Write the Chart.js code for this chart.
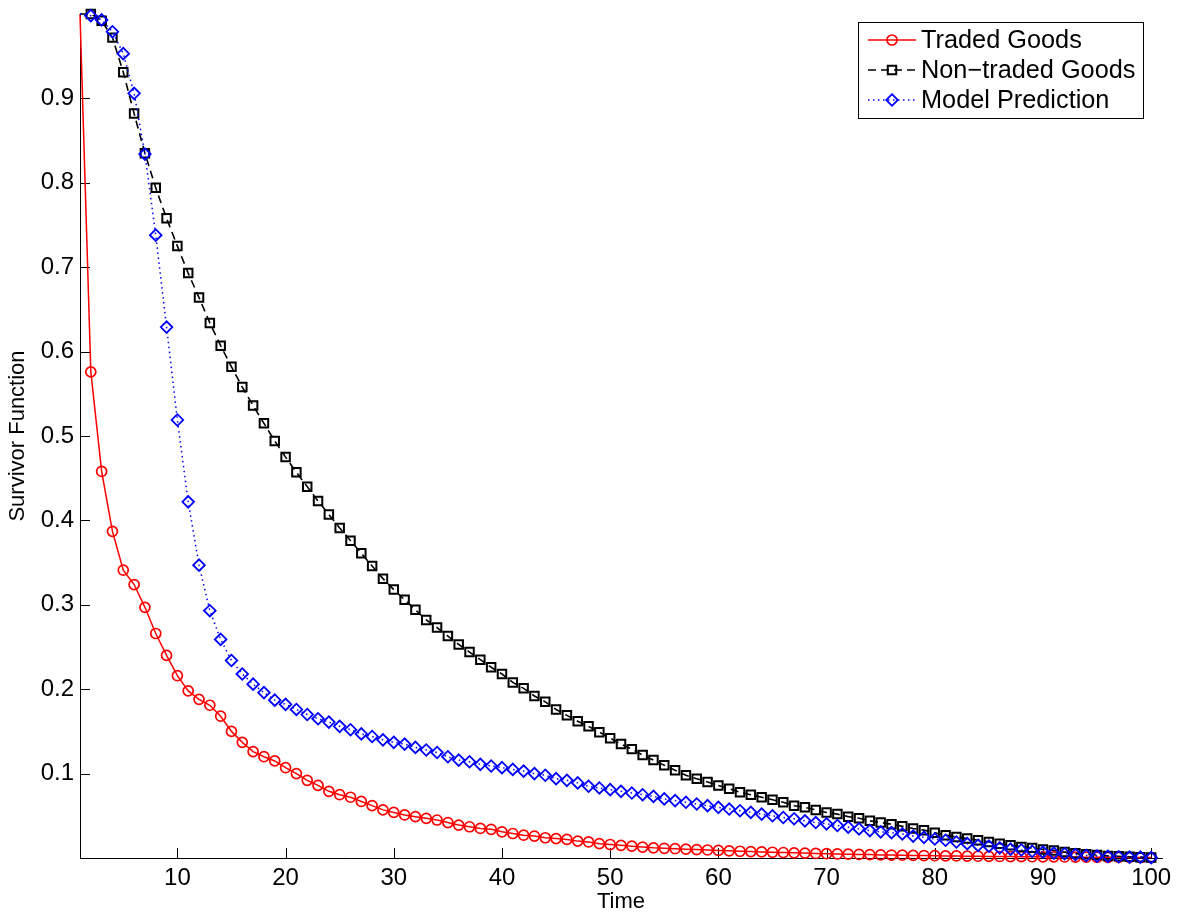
<!DOCTYPE html>
<html>
<head>
<meta charset="utf-8">
<title>Survivor Function</title>
<script src="https://cdn.jsdelivr.net/npm/chart.js@4.4.1/dist/chart.umd.min.js"></script>
<style>
  html, body { margin: 0; padding: 0; background: #fff; }
</style>
</head>
<body>
<canvas id="survivorChart" width="1186" height="917"></canvas>
<script>
// time periods 1..100
const time = [
  1, 2, 3, 4, 5, 6, 7, 8, 9, 10, 11, 12, 13, 14, 15, 16, 17, 18, 19, 20,
  21, 22, 23, 24, 25, 26, 27, 28, 29, 30, 31, 32, 33, 34, 35, 36, 37, 38, 39, 40,
  41, 42, 43, 44, 45, 46, 47, 48, 49, 50, 51, 52, 53, 54, 55, 56, 57, 58, 59, 60,
  61, 62, 63, 64, 65, 66, 67, 68, 69, 70, 71, 72, 73, 74, 75, 76, 77, 78, 79, 80,
  81, 82, 83, 84, 85, 86, 87, 88, 89, 90, 91, 92, 93, 94, 95, 96, 97, 98, 99, 100
];

const tradedGoods = [
  1.0, 0.576, 0.458, 0.387, 0.341, 0.324, 0.297, 0.266, 0.240, 0.216,
  0.198, 0.188, 0.181, 0.168, 0.150, 0.137, 0.126, 0.120, 0.115, 0.107,
  0.100, 0.092, 0.086, 0.079, 0.075, 0.072, 0.067, 0.062, 0.057, 0.054,
  0.051, 0.049, 0.047, 0.045, 0.042, 0.039, 0.037, 0.035, 0.034, 0.031,
  0.029, 0.027, 0.026, 0.024, 0.023, 0.022, 0.020, 0.019, 0.017, 0.016,
  0.015, 0.014, 0.013, 0.012, 0.0115, 0.011, 0.0105, 0.010, 0.0095, 0.009,
  0.0085, 0.008, 0.0076, 0.0072, 0.0068, 0.0065, 0.0061, 0.0058, 0.0054, 0.0051,
  0.0048, 0.0045, 0.0042, 0.0040, 0.0037, 0.0035, 0.0033, 0.0031, 0.0029, 0.0027,
  0.0025, 0.0024, 0.0022, 0.0021, 0.0019, 0.0018, 0.0017, 0.0016, 0.0015, 0.0014,
  0.0013, 0.0012, 0.0011, 0.0010, 0.0009, 0.0008, 0.0008, 0.0007, 0.0006, 0.0005
];

const nonTradedGoods = [
  1.0, 1.0, 0.992, 0.972, 0.931, 0.882, 0.835, 0.794, 0.758, 0.725,
  0.693, 0.664, 0.634, 0.607, 0.582, 0.558, 0.536, 0.515, 0.494, 0.475,
  0.457, 0.440, 0.423, 0.407, 0.391, 0.376, 0.361, 0.346, 0.331, 0.318,
  0.306, 0.294, 0.282, 0.273, 0.263, 0.253, 0.244, 0.235, 0.226, 0.218,
  0.208, 0.201, 0.192, 0.185, 0.176, 0.169, 0.162, 0.156, 0.149, 0.142,
  0.135, 0.129, 0.122, 0.116, 0.110, 0.104, 0.098, 0.094, 0.090, 0.086,
  0.082, 0.078, 0.075, 0.072, 0.069, 0.066, 0.062, 0.060, 0.057, 0.054,
  0.052, 0.049, 0.047, 0.044, 0.042, 0.040, 0.0375, 0.035, 0.033, 0.030,
  0.027, 0.025, 0.023, 0.021, 0.019, 0.017, 0.015, 0.013, 0.012, 0.010,
  0.009, 0.007, 0.0055, 0.0045, 0.0035, 0.0025, 0.002, 0.0015, 0.001, 0.0005
];

const modelPrediction = [
  1.0, 0.998, 0.993, 0.979, 0.953, 0.906, 0.834, 0.738, 0.629, 0.519,
  0.422, 0.347, 0.293, 0.259, 0.234, 0.218, 0.206, 0.196, 0.187, 0.182,
  0.176, 0.170, 0.165, 0.161, 0.156, 0.152, 0.147, 0.144, 0.140, 0.137,
  0.135, 0.131, 0.128, 0.125, 0.120, 0.116, 0.114, 0.111, 0.109, 0.107,
  0.105, 0.103, 0.100, 0.098, 0.094, 0.092, 0.089, 0.085, 0.083, 0.081,
  0.079, 0.077, 0.075, 0.073, 0.070, 0.068, 0.066, 0.064, 0.062, 0.060,
  0.058, 0.056, 0.054, 0.052, 0.050, 0.048, 0.0465, 0.044, 0.042, 0.0405,
  0.0385, 0.0365, 0.0345, 0.0325, 0.031, 0.030, 0.0285, 0.026, 0.0245, 0.0225,
  0.021, 0.019, 0.017, 0.015, 0.014, 0.012, 0.0105, 0.0095, 0.008, 0.007,
  0.0057, 0.005, 0.004, 0.003, 0.0023, 0.002, 0.0015, 0.001, 0.001, 0.0005
];

const xTickValues = [10, 20, 30, 40, 50, 60, 70, 80, 90, 100];
const yTickValues = [0.1, 0.2, 0.3, 0.4, 0.5, 0.6, 0.7, 0.8, 0.9];
const seriesNames = ['Traded Goods', 'Non\u2212traded Goods', 'Model Prediction'];

const FONT = '"Liberation Sans", Arial, Helvetica, sans-serif';

// first sample (t = 1) has no marker
const markerSizes = r => time.map((t, i) => (i === 0 ? 0 : r));

function toPoints(values) {
  return time.map((t, i) => ({ x: t, y: values[i] }));
}

// tick marks pointing into the plot
const inwardTicks = {
  id: 'inwardTicks',
  beforeDatasetsDraw(chart) {
    const { ctx, chartArea, scales } = chart;
    ctx.save();
    ctx.strokeStyle = '#000';
    ctx.lineWidth = 1;
    ctx.beginPath();
    xTickValues.forEach(v => {
      const px = Math.round(scales.x.getPixelForValue(v)) + 0.5;
      ctx.moveTo(px, chartArea.bottom);
      ctx.lineTo(px, chartArea.bottom - 10);
    });
    yTickValues.forEach(v => {
      const py = Math.round(scales.y.getPixelForValue(v)) + 0.5;
      ctx.moveTo(chartArea.left, py);
      ctx.lineTo(chartArea.left + 10, py);
    });
    ctx.stroke();
    ctx.restore();
  }
};

// legend sample markers, same geometry as chart.js point styles
function drawMarker(ctx, ds, x, y) {
  const r = ds.pointRadius[1];
  const s = r * Math.SQRT1_2;
  ctx.save();
  ctx.strokeStyle = ds.borderColor;
  ctx.lineWidth = ds.pointBorderWidth;
  ctx.beginPath();
  if (ds.pointStyle === 'circle') {
    ctx.arc(x, y, r, 0, Math.PI * 2);
  } else if (ds.pointStyle === 'rectRot') {
    ctx.moveTo(x, y - r);
    ctx.lineTo(x + r, y);
    ctx.lineTo(x, y + r);
    ctx.lineTo(x - r, y);
    ctx.closePath();
  } else {
    ctx.rect(x - s, y - s, s * 2, s * 2);
  }
  ctx.stroke();
  ctx.restore();
}

// boxed legend in the upper right corner of the axes
const boxLegend = {
  id: 'boxLegend',
  afterDraw(chart) {
    const { ctx, chartArea } = chart;
    const right = chartArea.right - 19;
    const left = right - 285;
    const top = chartArea.top + 8;
    const bottom = top + 96;
    ctx.save();
    ctx.fillStyle = '#fff';
    ctx.fillRect(left, top, right - left, bottom - top);
    ctx.strokeStyle = '#000';
    ctx.lineWidth = 1;
    ctx.strokeRect(left + 0.5, top + 0.5, right - left, bottom - top);

    chart.data.datasets.forEach((ds, i) => {
      const y = top + 18 + i * 30;
      ctx.save();
      ctx.strokeStyle = ds.borderColor;
      ctx.lineWidth = ds.borderWidth;
      ctx.setLineDash(ds.borderDash || []);
      ctx.beginPath();
      ctx.moveTo(left + 10, y);
      ctx.lineTo(left + 58, y);
      ctx.stroke();
      ctx.restore();
      drawMarker(ctx, ds, left + 34, y);

      ctx.fillStyle = '#000';
      ctx.font = '25.3px ' + FONT;
      ctx.textBaseline = 'middle';
      ctx.textAlign = 'left';
      ctx.fillText(ds.label, left + 63, y + 1);
    });
    ctx.restore();
  }
};

new Chart(document.getElementById('survivorChart'), {
  type: 'line',
  data: {
    datasets: [
      {
        label: seriesNames[0],
        data: toPoints(tradedGoods),
        borderColor: '#ff0000',
        borderWidth: 1.5,
        pointStyle: 'circle',
        pointRadius: markerSizes(5),
        pointBorderWidth: 1.7,
        pointBorderColor: '#ff0000',
        pointBackgroundColor: 'rgba(0,0,0,0)',
        tension: 0,
        clip: false,
        order: 2
      },
      {
        label: seriesNames[1],
        data: toPoints(nonTradedGoods),
        borderColor: '#000000',
        borderWidth: 1.6,
        borderDash: [8, 5],
        pointStyle: 'rect',
        pointRadius: markerSizes(6),
        pointBorderWidth: 2,
        pointBorderColor: '#000000',
        pointBackgroundColor: 'rgba(0,0,0,0)',
        tension: 0,
        clip: false,
        order: 1
      },
      {
        label: seriesNames[2],
        data: toPoints(modelPrediction),
        borderColor: '#0000ff',
        borderWidth: 1.5,
        borderDash: [1.5, 3.5],
        pointStyle: 'rectRot',
        pointRadius: markerSizes(5.8),
        pointBorderWidth: 1.8,
        pointBorderColor: '#0000ff',
        pointBackgroundColor: 'rgba(0,0,0,0)',
        tension: 0,
        clip: false,
        order: 0
      }
    ]
  },
  options: {
    responsive: false,
    animation: false,
    layout: { padding: { top: 14, right: 24, left: 0, bottom: 0 } },
    plugins: {
      legend: { display: false },
      tooltip: { enabled: false }
    },
    scales: {
      x: {
        type: 'linear',
        min: 1,
        max: 101,
        grid: { display: false, drawTicks: false },
        border: { display: true, color: '#000', width: 1 },
        afterBuildTicks: scale => { scale.ticks = xTickValues.map(v => ({ value: v })); },
        afterFit: scale => {
          scale.height = 59;
          scale.paddingLeft = 0;
          scale.paddingRight = 0;
        },
        ticks: {
          autoSkip: false,
          maxRotation: 0,
          padding: 6,
          color: '#000',
          font: { family: FONT, size: 24 },
          callback: v => String(v)
        },
        title: {
          display: true,
          text: 'Time',
          color: '#000',
          font: { family: FONT, size: 22 },
          padding: { top: 0, bottom: 2 }
        }
      },
      y: {
        type: 'linear',
        min: 0,
        max: 1,
        grid: { display: false, drawTicks: false },
        border: { display: true, color: '#000', width: 1 },
        afterBuildTicks: scale => { scale.ticks = yTickValues.map(v => ({ value: v })); },
        afterFit: scale => {
          scale.width = 80;
          scale.paddingTop = 0;
          scale.paddingBottom = 0;
        },
        ticks: {
          autoSkip: false,
          padding: 6,
          color: '#000',
          font: { family: FONT, size: 24 },
          callback: v => v.toFixed(1)
        },
        title: {
          display: true,
          text: 'Survivor Function',
          color: '#000',
          font: { family: FONT, size: 22 },
          padding: { top: 5, bottom: 0 }
        }
      }
    }
  },
  plugins: [inwardTicks, boxLegend]
});
</script>
</body>
</html>
